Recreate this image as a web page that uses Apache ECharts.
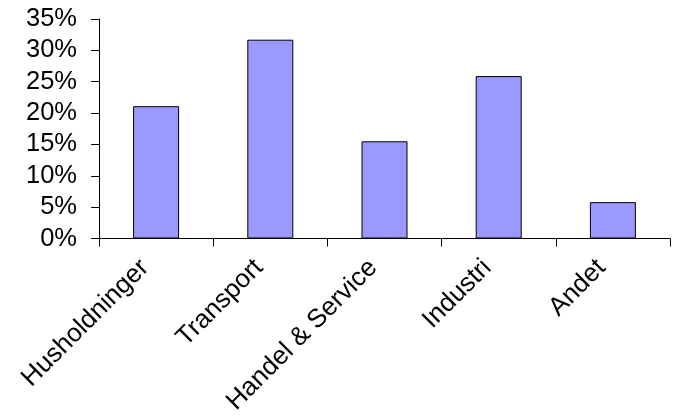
<!DOCTYPE html>
<html>
<head>
<meta charset="utf-8">
<script src="https://cdn.jsdelivr.net/npm/echarts@6/dist/echarts.min.js"></script>
<style>
html,body{margin:0;padding:0;background:#fff;}
#chart{width:673px;height:418px;}
</style>
</head>
<body>
<div id="chart"></div>
<script>
var categories = ['Husholdninger', 'Transport', 'Handel & Service', 'Industri', 'Andet'];
var shares = [21.1, 31.7, 15.5, 25.9, 5.8];
var yTicks = { min: 0, max: 35, interval: 5 };

var chart = echarts.init(document.getElementById('chart'), null, { renderer: 'canvas' });
chart.setOption({
  animation: false,
  backgroundColor: '#ffffff',
  grid: { left: 99, right: 3, top: 19, bottom: 179.5, containLabel: false, outerBoundsMode: 'none' },
  xAxis: {
    type: 'category',
    data: categories,
    axisLine: { show: true, lineStyle: { color: '#000', width: 1 } },
    axisTick: { show: true, alignWithLabel: false, length: 8, lineStyle: { color: '#000' } },
    axisLabel: {
      rotate: 45,
      interval: 0,
      margin: 14,
      padding: [0, 16, 0, 0],
      fontFamily: 'Liberation Sans, Arial, sans-serif',
      fontSize: 26,
      color: '#000'
    },
    splitLine: { show: false }
  },
  yAxis: {
    type: 'value',
    min: yTicks.min,
    max: yTicks.max,
    interval: yTicks.interval,
    axisLine: { show: true, lineStyle: { color: '#000', width: 1 } },
    axisTick: { show: true, length: 8, lineStyle: { color: '#000' } },
    axisLabel: {
      formatter: '{value}%',
      margin: 22,
      fontFamily: 'Liberation Sans, Arial, sans-serif',
      fontSize: 25.5,
      color: '#000'
    },
    splitLine: { show: false }
  },
  series: [{
    type: 'bar',
    data: shares,
    barWidth: 46,
    itemStyle: { color: '#9999FF', borderColor: '#000', borderWidth: 1 }
  }]
});
</script>
</body>
</html>
